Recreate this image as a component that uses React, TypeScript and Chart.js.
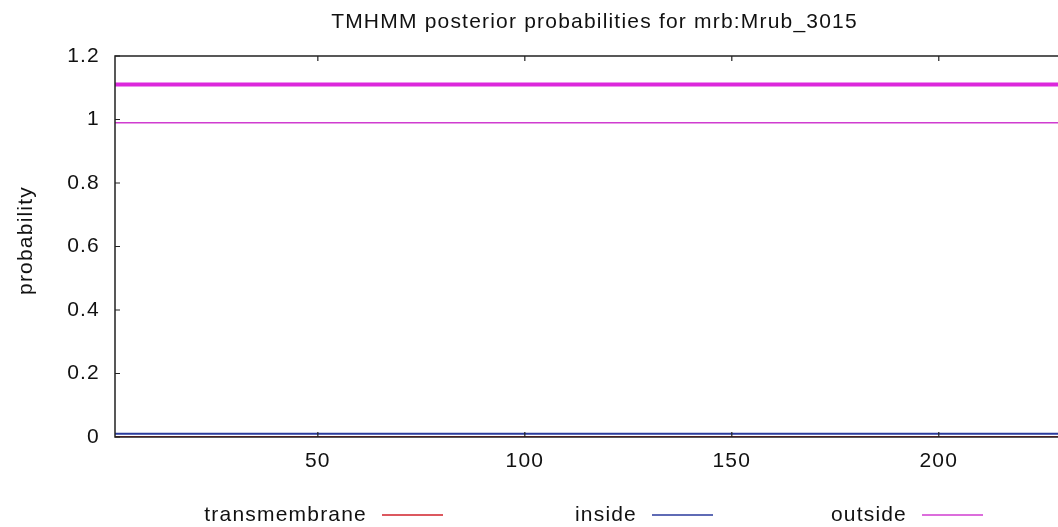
import { useEffect, useRef } from 'react';
import { Chart, registerables } from 'chart.js';

Chart.register(...registerables);

const titleText = 'TMHMM posterior probabilities for mrb:Mrub_3015';
const yAxisTitle = 'probability';
const seriesLabels = ['transmembrane', 'inside', 'outside'];
const residues = [1, 229];
const transmembraneProb = [0, 0];
const insideProb = [0.01, 0.01];
const outsideProb = [0.99, 0.99];
const outsideTopology = [1.11, 1.11];
const xTickValues = [50, 100, 150, 200];
const yTickValues = [0, 0.2, 0.4, 0.6, 0.8, 1, 1.2];

const FONT = "'Liberation Sans', Arial, Helvetica, sans-serif";
const FONT_SIZE = 21;
const TEXT_COLOR = '#111';
const SPACING = '1.2px';

const toPoints = (ys: number[]) => residues.map((x, i) => ({ x, y: ys[i] }));

const decorPlugin = {
  id: 'decor',
  afterInit(chart: any) {
    chart.ctx.letterSpacing = SPACING;
  },
  beforeLayout(chart: any) {
    chart.ctx.letterSpacing = SPACING;
  },
  beforeDraw(chart: any) {
    chart.ctx.letterSpacing = SPACING;
  },
  afterDatasetsDraw(chart: any) {
    const { ctx, chartArea } = chart;
    const { left, top, right, bottom } = chartArea;
    const xs = chart.scales.x;
    const ys = chart.scales.y;
    ctx.save();
    ctx.strokeStyle = '#222';
    ctx.lineWidth = 1.5;
    ctx.beginPath();
    ctx.moveTo(right, top);
    ctx.lineTo(left, top);
    ctx.lineTo(left, bottom);
    ctx.lineTo(right, bottom);
    ctx.stroke();
    ctx.lineWidth = 1.2;
    ctx.beginPath();
    for (const t of ys.ticks) {
      const py = ys.getPixelForValue(t.value);
      ctx.moveTo(left, py);
      ctx.lineTo(left + 5, py);
    }
    for (const t of xs.ticks) {
      const px = xs.getPixelForValue(t.value);
      ctx.moveTo(px, bottom);
      ctx.lineTo(px, bottom - 5);
      ctx.moveTo(px, top);
      ctx.lineTo(px, top + 5);
    }
    ctx.stroke();
    ctx.restore();
  },
  afterDraw(chart: any) {
    const { ctx, chartArea } = chart;
    ctx.save();
    ctx.letterSpacing = SPACING;
    ctx.font = `${FONT_SIZE}px ${FONT}`;
    ctx.fillStyle = TEXT_COLOR;
    // title
    ctx.textAlign = 'center';
    ctx.textBaseline = 'alphabetic';
    ctx.fillText(titleText, (chartArea.left + chartArea.right) / 2 + 8, 28);
    // y axis title
    ctx.save();
    ctx.translate(26, (chartArea.top + chartArea.bottom) / 2 - 6);
    ctx.rotate(-Math.PI / 2);
    ctx.textAlign = 'center';
    ctx.textBaseline = 'middle';
    ctx.fillText(yAxisTitle, 0, 0);
    ctx.restore();
    // legend
    const legendY = 515;
    ctx.textBaseline = 'middle';
    ctx.textAlign = 'right';
    seriesLabels.forEach((label, i) => {
      const ds = chart.data.datasets[i];
      const sx = 382 + i * 270;
      ctx.fillStyle = TEXT_COLOR;
      ctx.fillText(label, sx - 15, legendY);
      ctx.strokeStyle = ds.borderColor;
      ctx.lineWidth = 1.5;
      ctx.beginPath();
      ctx.moveTo(sx, legendY);
      ctx.lineTo(sx + 61, legendY);
      ctx.stroke();
    });
    ctx.restore();
  },
};

export default function App() {
  const canvasRef = useRef<HTMLCanvasElement | null>(null);

  useEffect(() => {
    const canvas = canvasRef.current;
    if (!canvas) return;
    const chart = new Chart(canvas, {
      type: 'line',
      data: {
        datasets: [
          {
            label: seriesLabels[0],
            data: toPoints(transmembraneProb),
            borderColor: '#d0202a',
            borderWidth: 2,
            pointRadius: 0,
          },
          {
            label: seriesLabels[1],
            data: toPoints(insideProb),
            borderColor: '#2a3a9c',
            borderWidth: 2,
            pointRadius: 0,
          },
          {
            label: seriesLabels[2],
            data: toPoints(outsideProb),
            borderColor: '#d03cd0',
            borderWidth: 1.6,
            pointRadius: 0,
          },
          {
            label: 'outside (topology)',
            data: toPoints(outsideTopology),
            borderColor: '#dc28dc',
            borderWidth: 4,
            pointRadius: 0,
          },
        ],
      },
      options: {
        responsive: false,
        animation: false,
        events: [],
        layout: { padding: { top: 56, left: 0, right: 0, bottom: 0 } },
        plugins: {
          legend: { display: false },
          title: { display: false },
          tooltip: { enabled: false },
        },
        scales: {
          x: {
            type: 'linear',
            min: 1,
            max: 228.8,
            afterBuildTicks: (s: any) => {
              s.ticks = xTickValues.map((v) => ({ value: v }));
            },
            afterFit: (s: any) => {
              s.height = 90;
            },
            grid: { display: false, drawTicks: false },
            border: { display: false },
            ticks: {
              padding: 12,
              autoSkip: false,
              maxRotation: 0,
              color: TEXT_COLOR,
              font: { family: FONT, size: FONT_SIZE },
              callback: (v: any) => String(v),
            },
          },
          y: {
            type: 'linear',
            min: 0,
            max: 1.2,
            afterBuildTicks: (s: any) => {
              s.ticks = yTickValues.map((v) => ({ value: v }));
            },
            afterFit: (s: any) => {
              s.width = 115;
            },
            grid: { display: false, drawTicks: false },
            border: { display: false },
            ticks: {
              padding: 15,
              color: TEXT_COLOR,
              font: { family: FONT, size: FONT_SIZE },
              callback: (v: any) => String(Number(Number(v).toFixed(1))),
            },
            title: { display: false, text: yAxisTitle },
          },
        },
      },
      plugins: [decorPlugin],
    } as any);
    return () => chart.destroy();
  }, []);

  return (
    <div style={{ position: 'absolute', left: 0, top: 0, width: 1058, height: 527, background: '#fff' }}>
      <canvas ref={canvasRef} width={1058} height={527} style={{ display: 'block' }} />
    </div>
  );
}
